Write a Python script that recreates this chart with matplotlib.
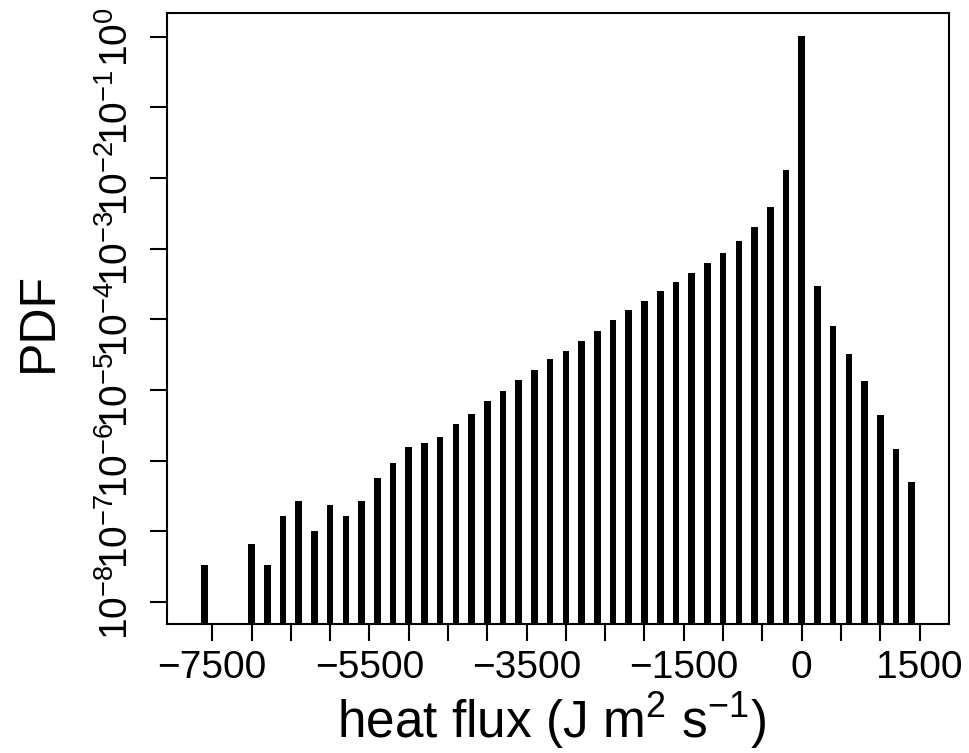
import matplotlib
matplotlib.use("Agg")
import matplotlib.pyplot as plt
from matplotlib.ticker import FixedLocator, FixedFormatter

plt.rcParams['font.family'] = ['Liberation Sans', 'DejaVu Sans']
plt.rcParams['mathtext.fontset'] = 'custom'
plt.rcParams['mathtext.rm'] = 'Liberation Sans'
plt.rcParams['mathtext.it'] = 'Liberation Sans'
plt.rcParams['mathtext.bf'] = 'Liberation Sans'

# bin centres of the heat flux histogram (J m2 s-1)
flux = [-7600, -7000, -6800, -6600, -6400, -6200, -6000, -5800, -5600, -5400,
        -5200, -5000, -4800, -4600, -4400, -4200, -4000, -3800, -3600, -3400,
        -3200, -3000, -2800, -2600, -2400, -2200, -2000, -1800, -1600, -1400,
        -1200, -1000, -800, -600, -400, -200, 0, 200, 400, 600,
        800, 1000, 1200, 1400]
pdf = [3.3e-8, 6.6e-8, 3.3e-8, 1.66e-7, 2.7e-7, 1.0e-7, 2.35e-7, 1.66e-7, 2.7e-7, 5.6e-7,
       9.3e-7, 1.58e-6, 1.78e-6, 2.14e-6, 3.3e-6, 4.6e-6, 7.0e-6, 9.8e-6, 1.38e-5, 1.9e-5,
       2.75e-5, 3.55e-5, 5.0e-5, 6.8e-5, 9.8e-5, 1.35e-4, 1.82e-4, 2.5e-4, 3.4e-4, 4.6e-4,
       6.3e-4, 8.6e-4, 1.27e-3, 2.04e-3, 3.9e-3, 1.29e-2, 1.02, 3.0e-4, 8.1e-5, 3.2e-5,
       1.35e-5, 4.4e-6, 1.48e-6, 5.0e-7]

xticks = list(range(-7500, 1501, 500))
xlabels_shown = [-7500, -5500, -3500, -1500, 0, 1500]
yticks = [10.0 ** k for k in range(-8, 1)]
ylabels = ['$10^{%d}$' % k if k == 0 else '$10^{\u2212%d}$' % -k for k in range(-8, 1)]

fig = plt.figure(figsize=(9.7, 7.53), dpi=100)
ax = fig.add_axes([0.1725, 0.1713, 0.978 - 0.1725, 0.9823 - 0.1713])

ylo = 10 ** -8.311
yhi = 10 ** 0.331
ax.set_yscale('log')
ax.bar(flux, [p - ylo for p in pdf], bottom=ylo, width=84, color='black', linewidth=0)

ax.set_xlim(-8071, 1870)
ax.set_ylim(ylo, yhi)

ax.xaxis.set_major_locator(FixedLocator(xticks))
ax.xaxis.set_major_formatter(FixedFormatter(
    [('\u2212%d' % -t if t < 0 else '%d' % t) if t in xlabels_shown else '' for t in xticks]))
ax.yaxis.set_major_locator(FixedLocator(yticks))
ax.yaxis.set_major_formatter(FixedFormatter(ylabels))
ax.yaxis.set_minor_locator(FixedLocator([]))

for lab in ax.get_yticklabels():
    lab.set_rotation(90)
    lab.set_va('center')

ax.tick_params(axis='both', direction='out', length=12.5, width=1.5, labelsize=28)
ax.tick_params(axis='x', pad=6)
ax.tick_params(axis='y', pad=10)
for s in ax.spines.values():
    s.set_linewidth(1.5)

ax.set_xlabel('heat flux (J m$^2$ s$^{\u22121}$)', fontsize=37)
ax.xaxis.set_label_coords(0.4923, -0.108)
ax.set_ylabel('PDF', fontsize=36)
ax.yaxis.set_label_coords(-0.135, 0.4945)

fig.savefig('out.png', dpi=100)
